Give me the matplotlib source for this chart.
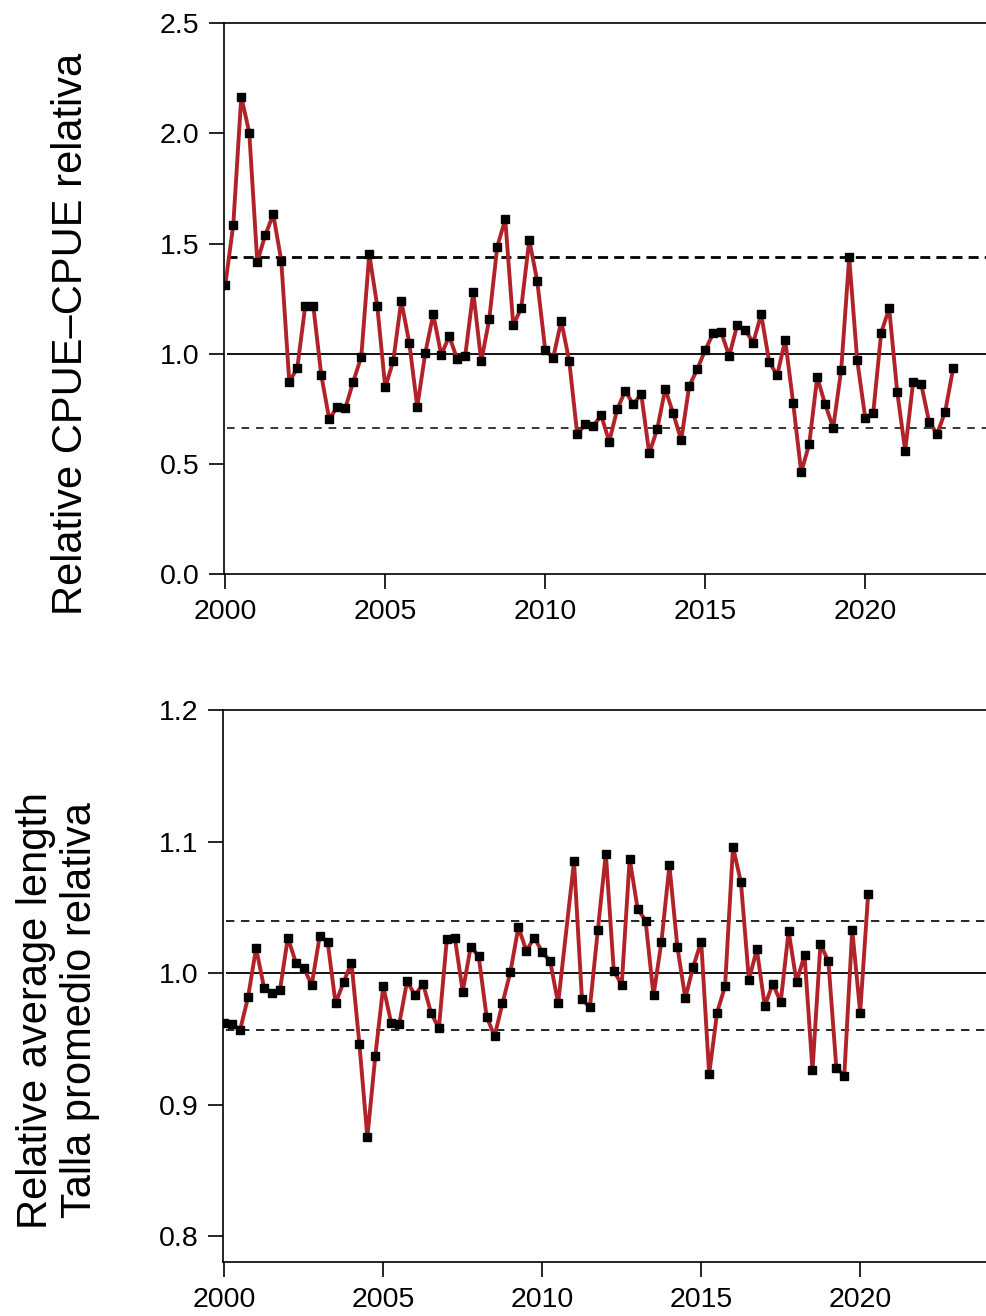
import numpy as np
import matplotlib
matplotlib.use("Agg")
import matplotlib.pyplot as plt

plt.rcParams['font.family'] = ['Liberation Sans', 'DejaVu Sans']

# quarterly relative CPUE, 2000 Q1 .. 2022 Q4
cpue = [1.313, 1.585, 2.167, 2.004, 1.418, 1.539, 1.633, 1.423,
        0.874, 0.935, 1.219, 1.219, 0.904, 0.703, 0.760, 0.753,
        0.874, 0.987, 1.453, 1.217, 0.848, 0.968, 1.241, 1.051,
        0.760, 1.003, 1.180, 0.995, 1.081, 0.975, 0.992, 1.282,
        0.966, 1.157, 1.486, 1.611, 1.131, 1.207, 1.517, 1.331,
        1.018, 0.983, 1.149, 0.968, 0.635, 0.682, 0.673, 0.721,
        0.602, 0.749, 0.832, 0.771, 0.818, 0.549, 0.658, 0.841,
        0.730, 0.609, 0.854, 0.930, 1.018, 1.093, 1.098, 0.990,
        1.131, 1.108, 1.051, 1.180, 0.963, 0.903, 1.063, 0.776,
        0.463, 0.590, 0.894, 0.771, 0.665, 0.927, 1.438, 0.972,
        0.711, 0.730, 1.096, 1.207, 0.829, 0.561, 0.874, 0.863,
        0.690, 0.637, 0.738, 0.935]
cpue_years = 2000 + 0.25 * np.arange(len(cpue))
cpue_lo, cpue_hi = 0.664, 1.440

# relative average length (one quarter missing in 2010)
length_idx = list(range(0, 43)) + list(range(44, 82))
length = [0.962, 0.961, 0.957, 0.982, 1.019, 0.989, 0.985, 0.987,
          1.027, 1.008, 1.004, 0.991, 1.028, 1.024, 0.977, 0.993,
          1.008, 0.946, 0.875, 0.937, 0.990, 0.962, 0.961, 0.994,
          0.983, 0.992, 0.970, 0.958, 1.026, 1.027, 0.986, 1.020,
          1.013, 0.967, 0.952, 0.977, 1.001, 1.035, 1.017, 1.027,
          1.016, 1.009, 0.977,
          1.085, 0.980, 0.974, 1.033, 1.091, 1.002, 0.991, 1.087,
          1.049, 1.040, 0.983, 1.024, 1.082, 1.020, 0.981, 1.005,
          1.024, 0.923, 0.970, 0.990, 1.096, 1.069, 0.995, 1.018,
          0.975, 0.992, 0.978, 1.032, 0.993, 1.014, 0.926, 1.022,
          1.009, 0.928, 0.922, 1.033, 0.970, 1.060]
length_years = 2000 + 0.25 * np.array(length_idx)
length_lo, length_hi = 0.957, 1.040

RED = '#B22229'
FS = 20.5

fig = plt.figure(figsize=(9.86, 13.16), dpi=100)


def style(ax):
    ax.spines['right'].set_visible(False)
    for s in ax.spines.values():
        s.set_linewidth(1.2)
    ax.tick_params(direction='out', length=11, width=1.2, labelsize=FS, pad=7,
                   top=False, right=False)
    ax.set_xticks([2000, 2005, 2010, 2015, 2020])
    ax.set_xlim(1999.97, 2024.5)


# top panel
ax1 = fig.add_axes([0.2275, 0.5636, 0.796, 0.4187])
ax1.hlines(1.0, 2000.05, 2025, color='black', lw=1.3, zorder=1)
ax1.hlines(cpue_hi, 2000.05, 2025, color='black', lw=2.0,
           linestyles=(0, (3.6, 2.2)), zorder=1)
ax1.hlines(cpue_lo, 2000.05, 2025, color='black', lw=1.1,
           linestyles=(0, (5, 4.5)), zorder=1)
ax1.plot(cpue_years, cpue, color=RED, lw=2.8, zorder=2)
ax1.plot(cpue_years, cpue, 's', color='black', ms=5.2, zorder=3)
ax1.set_ylim(0, 2.5)
ax1.set_yticks([0, 0.5, 1.0, 1.5, 2.0, 2.5])
ax1.set_yticklabels(['0.0', '0.5', '1.0', '1.5', '2.0', '2.5'])
style(ax1)
fig.text(0.072, 0.746, 'Relative CPUE\u2013CPUE relativa', rotation=90,
         ha='center', va='center', fontsize=30)

# bottom panel
ax2 = fig.add_axes([0.2265, 0.0408, 0.791, 0.4195])
ax2.hlines(1.0, 2000.05, 2025, color='black', lw=1.3, zorder=1)
for v in (length_lo, length_hi):
    ax2.hlines(v, 2000.05, 2025, color='black', lw=1.2,
               linestyles=(0, (5, 4)), zorder=1)
ax2.plot(length_years, length, color=RED, lw=2.8, zorder=2)
ax2.plot(length_years, length, 's', color='black', ms=5.2, zorder=3)
ax2.set_ylim(0.78, 1.2)
ax2.set_yticks([0.8, 0.9, 1.0, 1.1, 1.2])
ax2.set_yticklabels(['0.8', '0.9', '1.0', '1.1', '1.2'])
style(ax2)
fig.text(0.059, 0.2325, 'Relative average length\nTalla promedio relativa',
         rotation=90, ha='center', va='center', fontsize=30,
         multialignment='center', linespacing=1.15)

fig.savefig('out.png', dpi=100)
